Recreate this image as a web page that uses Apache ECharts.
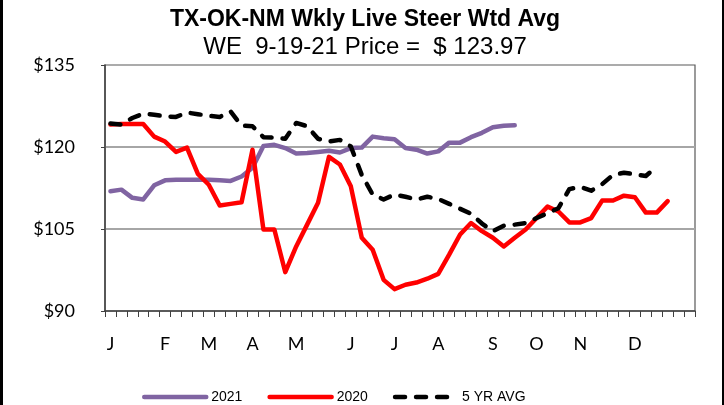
<!DOCTYPE html>
<html>
<head>
<meta charset="utf-8">
<script src="https://cdn.jsdelivr.net/npm/echarts@6/dist/echarts.min.js"></script>
<style>
  html, body { margin: 0; padding: 0; background: #fff; }
  #chart { width: 724px; height: 405px; }
</style>
</head>
<body>
<div id="chart"></div>
<script>
// week-of-year tick labels (54 slots, month letter where the month starts)
const monthTicks = [
  'J', '', '', '', '', 'F', '', '', '', 'M', '', '', '', 'A', '', '', '', 'M', '', '', '', '', 'J', '', '', '', 'J',
  '', '', '', 'A', '', '', '', '', 'S', '', '', '', 'O', '', '', '', 'N', '', '', '', '', 'D', '', '', '', '', ''
]

const price2021 = [
  111.9, 112.2, 110.7, 110.4, 113.0, 113.9, 114.0, 114.0, 114.0, 114.0, 113.9, 113.8, 114.6, 116.2,
  120.2, 120.4, 119.8, 118.8, 118.9, 119.1, 119.3, 119.0, 119.8, 119.9, 121.9, 121.6, 121.4, 119.8,
  119.5, 118.8, 119.2, 120.8, 120.8, 121.8, 122.6, 123.6, 123.9, 123.97
]

const price2020 = [
  124.1, 124.2, 124.2, 124.2, 121.9, 121.0, 119.1, 119.9, 115.1, 113.1, 109.3, 109.6, 109.9, 119.5,
  104.9, 104.9, 97.1, 101.8, 105.8, 109.8, 118.2, 116.8, 112.8, 103.4, 101.2, 95.7, 94.0, 94.8,
  95.2, 95.9, 96.8, 100.3, 104.0, 106.1, 104.6, 103.4, 101.8, 103.4, 104.9, 107.0, 109.1, 108.2,
  106.2, 106.2, 107.0, 110.2, 110.2, 111.1, 110.8, 108.0, 108.0, 110.1
]

const avg5yr = [
  124.3, 124.1, 125.3, 126.1, 125.9, 125.6, 125.5, 126.3, 126.0, 125.7, 125.5, 126.5, 123.9, 123.8,
  121.8, 121.7, 121.5, 124.4, 123.8, 121.5, 121.0, 121.3, 120.1, 114.9, 111.3, 110.4, 111.3, 110.9,
  110.4, 110.9, 110.5, 109.6, 108.7, 107.8, 106.0, 104.6, 105.6, 105.8, 106.1, 107.0, 107.9, 108.8,
  112.3, 112.7, 112.0, 113.2, 114.9, 115.3, 115.0, 114.7, 116.4
]

const yTicks = { min: 90, max: 135, step: 15 }

const weeks = monthTicks.map((_, i) => 'W' + (i + 1))

const chart = echarts.init(document.getElementById('chart'), null, { renderer: 'canvas' })

const lineSeries = (name, data, color, dashed) => ({
  name,
  type: 'line',
  data,
  symbol: 'none',
  smooth: false,
  animation: false,
  lineStyle: {
    color,
    width: 4.5,
    type: dashed ? [10, 11] : 'solid',
    cap: 'round',
    join: 'round',
  },
  itemStyle: { color },
})

chart.setOption({
  backgroundColor: '#fff',
  textStyle: { fontFamily: 'Liberation Sans, Arial, sans-serif' },
  grid: {
    left: 105, right: 29, top: 65, bottom: 94,
    show: true, borderColor: '#595959', borderWidth: 1.2, backgroundColor: 'transparent',
  },
  graphic: [
    { type: 'rect', shape: { x: 0, y: 0, width: 3, height: 405 }, style: { fill: '#000' }, silent: true },
    { type: 'rect', shape: { x: 722, y: 0, width: 2, height: 405 }, style: { fill: '#000' }, silent: true },
    {
      type: 'text', x: 365, y: 20,
      style: {
        text: 'TX-OK-NM Wkly Live Steer Wtd Avg', fill: '#000',
        font: 'bold 23px "Liberation Sans", Arial, sans-serif',
        textAlign: 'center', textVerticalAlign: 'middle',
      },
    },
    {
      type: 'text', x: 365, y: 47,
      style: {
        text: 'WE  9-19-21 Price =  $ 123.97', fill: '#000',
        font: '24px "Liberation Sans", Arial, sans-serif',
        textAlign: 'center', textVerticalAlign: 'middle',
      },
    },
  ],
  legend: {
    left: 137, top: 385,
    itemWidth: 62, itemHeight: 12, itemGap: 25,
    itemStyle: { color: 'rgba(0,0,0,0)', borderWidth: 0 },
    lineStyle: { width: 4.5, cap: 'round' },
    textStyle: { fontSize: 14, color: '#000', fontFamily: 'Liberation Sans, Arial, sans-serif' },
    data: ['2021', '2020', '5 YR AVG'],
  },
  xAxis: {
    type: 'category',
    data: weeks,
    boundaryGap: true,
    axisLine: { show: true, lineStyle: { color: '#404040', width: 1.5 } },
    axisTick: { show: true, interval: 0, length: 6, lineStyle: { color: '#404040', width: 1 } },
    axisLabel: {
      interval: 0,
      margin: 24,
      fontSize: 18,
      color: '#000',
      fontFamily: 'Lato, sans-serif',
      formatter: (v, i) => monthTicks[i],
    },
    splitLine: { show: false },
  },
  yAxis: {
    type: 'value',
    min: yTicks.min,
    max: yTicks.max,
    interval: yTicks.step,
    axisLine: { show: true, lineStyle: { color: '#404040', width: 1.5 } },
    axisTick: { show: true, length: 4, lineStyle: { color: '#404040' } },
    axisLabel: {
      margin: 30, fontSize: 18, color: '#000', fontFamily: 'Lato, sans-serif',
      formatter: (v) => '$' + v,
    },
    splitLine: {
      show: true, showMinLine: false, showMaxLine: false,
      lineStyle: { color: '#a6a6a6', width: 2 },
    },
  },
  series: [
    lineSeries('2021', price2021, '#8064a2', false),
    lineSeries('2020', price2020, '#ff0000', false),
    lineSeries('5 YR AVG', avg5yr, '#000000', true),
  ],
})
</script>
</body>
</html>
